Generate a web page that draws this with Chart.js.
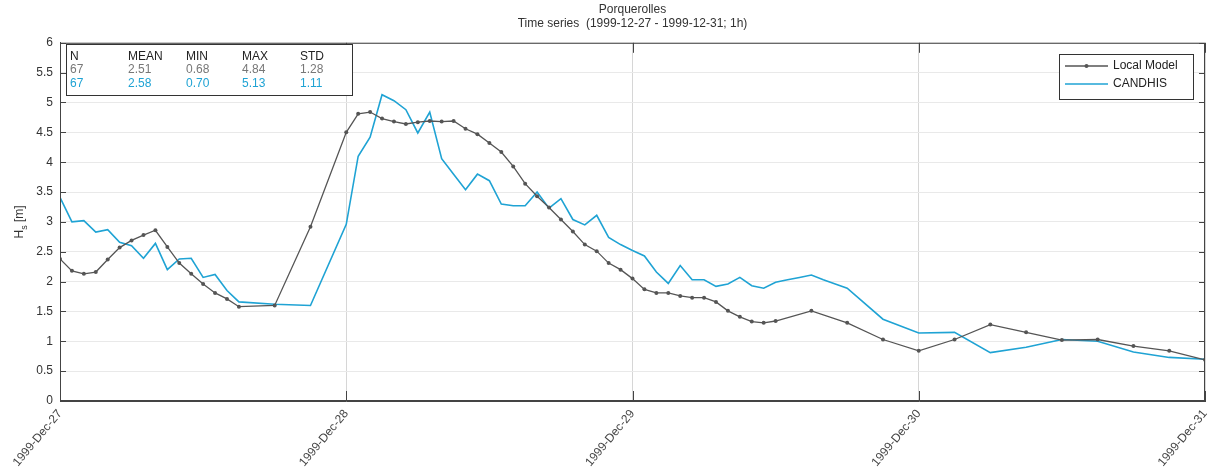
<!DOCTYPE html>
<html>
<head>
<meta charset="utf-8">
<title>Porquerolles</title>
<script src="https://cdn.jsdelivr.net/npm/chart.js@4/dist/chart.umd.min.js"></script>
<style>
  html, body { margin: 0; padding: 0; background: #fff; }
  canvas { display: block; }
</style>
</head>
<body>
<canvas id="grafico" width="1218" height="476"></canvas>
<script>
// hours since 1999-12-27 00:00
var localHours = [0,1,2,3,4,5,6,7,8,9,10,11,12,13,14,15,18,21,
  24,25,26,27,28,29,30,31,32,33,34,35,36,37,38,39,40,41,42,43,44,45,46,47,
  48,49,50,51,52,53,54,55,56,57,58,59,60,63,66,69,72,75,78,81,84,87,90,93,96];
var localHs = [2.38,2.18,2.13,2.16,2.37,2.57,2.69,2.78,2.86,2.58,2.31,2.13,1.96,1.81,1.71,1.58,1.60,2.92,
  4.50,4.81,4.84,4.73,4.68,4.64,4.67,4.69,4.68,4.69,4.56,4.47,4.32,4.17,3.93,3.64,3.43,3.24,3.04,2.84,2.62,2.51,2.31,2.20,
  2.05,1.87,1.81,1.81,1.76,1.73,1.73,1.66,1.51,1.41,1.33,1.31,1.34,1.51,1.31,1.03,0.84,1.03,1.28,1.15,1.02,1.03,0.92,0.84,0.69];

var candhisHours = [0,1,2,3,4,5,6,7,8,9,10,11,12,13,14,15,18,21,
  24,25,26,27,28,29,30,31,32,33,34,35,36,37,38,39,40,41,42,43,44,45,46,47,
  48,49,50,51,52,53,54,55,56,57,58,59,60,61,62,63,64,65,66,69,72,75,78,81,84,87,90,93,96];
var candhisHs = [3.41,3.00,3.02,2.83,2.87,2.66,2.60,2.39,2.64,2.20,2.38,2.39,2.07,2.12,1.85,1.66,1.62,1.60,
  2.96,4.10,4.42,5.13,5.03,4.88,4.49,4.84,4.06,3.80,3.54,3.80,3.69,3.30,3.27,3.27,3.50,3.23,3.39,3.04,2.95,3.11,2.74,2.62,
  2.52,2.43,2.16,1.97,2.27,2.03,2.03,1.92,1.96,2.07,1.93,1.89,1.99,2.03,2.07,2.11,2.03,1.96,1.89,1.37,1.14,1.15,0.81,0.90,1.03,1.00,0.82,0.73,0.70];

var dayLabels = ["1999-Dec-27", "1999-Dec-28", "1999-Dec-29", "1999-Dec-30", "1999-Dec-31"];

// tabla de estadisticas
var statHeaders = ["N", "MEAN", "MIN", "MAX", "STD"];
var localStats = ["67", "2.51", "0.68", "4.84", "1.28"];
var candhisStats = ["67", "2.58", "0.70", "5.13", "1.11"];

var colorLocal = "#555555";
var colorCandhis = "#1fa3d4";

function puntos(xs, ys) {
    return xs.map(function (x, i) { return { x: x, y: ys[i] }; });
}

var fuente = "'Liberation Sans', Arial, sans-serif";
Chart.defaults.font.family = fuente;
Chart.defaults.font.size = 12;
Chart.defaults.color = "#333";

// cajas, ticks interiores y etiqueta del eje Y
var extras = {
    id: "extras",
    afterDraw: function (chart) {
        var ctx = chart.ctx;
        var a = chart.chartArea;
        var xs = chart.scales.x, ys = chart.scales.y;
        ctx.save();

        // marco
        ctx.strokeStyle = "#444";
        ctx.lineWidth = 1;
        ctx.strokeRect(a.left + 0.5, a.top + 0.5, a.right - a.left - 1, a.bottom - a.top - 1);

        // ticks interiores
        ctx.beginPath();
        for (var v = 0; v <= 6; v += 0.5) {
            var py = Math.round(ys.getPixelForValue(v)) + 0.5;
            ctx.moveTo(a.left, py); ctx.lineTo(a.left + 6, py);
            ctx.moveTo(a.right, py); ctx.lineTo(a.right - 6, py);
        }
        for (var d = 0; d <= 96; d += 24) {
            var px = Math.round(xs.getPixelForValue(d)) + 0.5;
            ctx.moveTo(px, a.bottom); ctx.lineTo(px, a.bottom - 10);
            ctx.moveTo(px, a.top); ctx.lineTo(px, a.top + 10);
        }
        ctx.stroke();

        // etiqueta eje Y: H_s [m]
        ctx.translate(20, (a.top + a.bottom) / 2);
        ctx.rotate(-Math.PI / 2);
        ctx.fillStyle = "#333";
        ctx.textBaseline = "middle";
        ctx.font = "12px " + fuente;
        var w1 = ctx.measureText("H").width;
        ctx.font = "9px " + fuente;
        var w2 = ctx.measureText("s").width;
        ctx.font = "12px " + fuente;
        var w3 = ctx.measureText(" [m]").width;
        var x0 = -(w1 + w2 + w3) / 2;
        ctx.textAlign = "left";
        ctx.fillText("H", x0, 0);
        ctx.font = "9px " + fuente;
        ctx.fillText("s", x0 + w1, 5);
        ctx.font = "12px " + fuente;
        ctx.fillText(" [m]", x0 + w1 + w2, 0);
        ctx.setTransform(1, 0, 0, 1, 0, 0);

        // tabla de estadisticas
        ctx.fillStyle = "#fff";
        ctx.fillRect(66, 44, 286, 51);
        ctx.strokeStyle = "#333";
        ctx.strokeRect(66.5, 44.5, 286, 51);
        var cols = [70, 128, 186, 242, 300];
        ctx.font = "12px " + fuente;
        ctx.textAlign = "left";
        ctx.textBaseline = "middle";
        for (var i = 0; i < cols.length; i++) {
            ctx.fillStyle = "#222";
            ctx.fillText(statHeaders[i], cols[i], 57);
            ctx.fillStyle = "#777";
            ctx.fillText(localStats[i], cols[i], 70);
            ctx.fillStyle = colorCandhis;
            ctx.fillText(candhisStats[i], cols[i], 84);
        }

        // leyenda
        ctx.fillStyle = "#fff";
        ctx.fillRect(1059, 54, 134, 45);
        ctx.strokeStyle = "#333";
        ctx.strokeRect(1059.5, 54.5, 134, 45);
        ctx.lineWidth = 1.3;
        ctx.strokeStyle = colorLocal;
        ctx.beginPath(); ctx.moveTo(1065, 66); ctx.lineTo(1108, 66); ctx.stroke();
        ctx.fillStyle = colorLocal;
        ctx.beginPath(); ctx.arc(1086.5, 66, 2, 0, 2 * Math.PI); ctx.fill();
        ctx.lineWidth = 1.6;
        ctx.strokeStyle = colorCandhis;
        ctx.beginPath(); ctx.moveTo(1065, 84); ctx.lineTo(1108, 84); ctx.stroke();
        ctx.fillStyle = "#222";
        ctx.font = "12px " + fuente;
        ctx.fillText("Local Model", 1113, 66);
        ctx.fillText("CANDHIS", 1113, 84);

        ctx.restore();
    }
};

var ctx = document.getElementById("grafico").getContext("2d");
var miGrafico = new Chart(ctx, {
    type: "line",
    data: {
        datasets: [
            {
                label: "Local Model",
                data: puntos(localHours, localHs),
                borderColor: colorLocal,
                backgroundColor: colorLocal,
                borderWidth: 1.3,
                pointRadius: 2,
                pointBorderWidth: 0,
                tension: 0,
            },
            {
                label: "CANDHIS",
                data: puntos(candhisHours, candhisHs),
                borderColor: colorCandhis,
                backgroundColor: colorCandhis,
                borderWidth: 1.6,
                pointRadius: 0,
                tension: 0,
            },
        ],
    },
    options: {
        responsive: false,
        animation: false,
        devicePixelRatio: 1,
        layout: { padding: { left: 0, right: 13, top: 0, bottom: 0 } },
        plugins: {
            legend: { display: false },
            tooltip: { enabled: false },
            title: {
                display: true,
                fullSize: false,
                text: ["Porquerolles", "Time series  (1999-12-27 - 1999-12-31; 1h)"],
                color: "#333",
                font: { size: 12, weight: "normal" },
                padding: { top: 2, bottom: 12 },
            },
        },
        scales: {
            x: {
                type: "linear",
                min: 0,
                max: 96,
                afterFit: function (s) {
                    s.height = 75;
                    s.paddingLeft = 0;
                    s.paddingRight = 0;
                },
                grid: { color: "#d6d6d6", drawTicks: false },
                border: { color: "#444" },
                ticks: {
                    stepSize: 24,
                    autoSkip: false,
                    minRotation: 50,
                    maxRotation: 50,
                    padding: 6,
                    color: "#444",
                    font: { size: 12 },
                    callback: function (value) {
                        return dayLabels[value / 24];
                    },
                },
            },
            y: {
                min: 0,
                max: 6,
                afterFit: function (s) { s.width = 60; },
                grid: { color: "#e9e9e9", drawTicks: false },
                border: { color: "#444" },
                ticks: {
                    stepSize: 0.5,
                    padding: 7,
                    color: "#333",
                    font: { size: 12 },
                    callback: function (value) {
                        return String(Math.round(value * 10) / 10);
                    },
                },
            },
        },
    },
    plugins: [extras],
});
</script>
</body>
</html>
